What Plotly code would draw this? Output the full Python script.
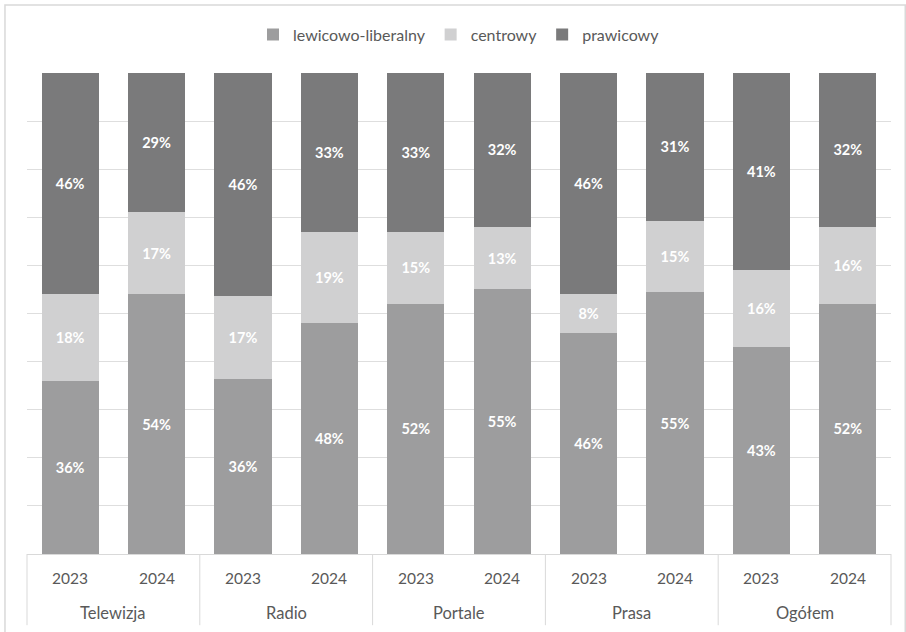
import plotly.graph_objects as go

# Share of coverage by political leaning, per medium and year
categories = ["Telewizja", "Radio", "Portale", "Prasa", "Ogółem"]
years = ["2023", "2024"]

media = [c for c in categories for _ in years]
year_labels = years * len(categories)

lewicowo_liberalny = [36, 54, 36, 48, 52, 55, 46, 55, 43, 52]
centrowy = [18, 17, 17, 19, 15, 13, 8, 15, 16, 16]
prawicowy = [46, 29, 46, 33, 33, 32, 46, 31, 41, 32]

series = [
    ("lewicowo-liberalny", lewicowo_liberalny, "#9d9d9e"),
    ("centrowy", centrowy, "#d0d0d1"),
    ("prawicowy", prawicowy, "#7a7a7b"),
]

FONT = "Lato, 'Open Sans', sans-serif"
TXT = "#595959"
LINE = "#d9d9d9"

fig = go.Figure()
for name, vals, color in series:
    fig.add_trace(go.Bar(
        name=name,
        x=[media, year_labels],
        y=vals,
        marker=dict(color=color, line=dict(width=0)),
        text=[f"{v}%" for v in vals],
        textposition="inside",
        insidetextanchor="middle",
        textangle=0,
        textfont=dict(family=FONT, size=14.5, color="white", weight="bold"),
        hoverinfo="skip",
    ))

# Two-level category labels under the plot, with group dividers
n = len(media)
annotations = []
for i, y in enumerate(year_labels):
    annotations.append(dict(
        x=(i + 0.5) / n, y=-0.05, xref="paper", yref="paper",
        text=y, showarrow=False, xanchor="center", yanchor="middle",
        font=dict(family=FONT, size=15.5, color=TXT)))
ng = len(categories)
for j, c in enumerate(categories):
    annotations.append(dict(
        x=(j + 0.5) / ng, y=-0.123, xref="paper", yref="paper",
        text=c, showarrow=False, xanchor="center", yanchor="middle",
        font=dict(family=FONT, size=16.5, color=TXT)))

shapes = [
    dict(type="rect", xref="paper", yref="paper",
         x0=-0.0255, x1=1.0165, y0=-0.2, y1=1.1414,
         line=dict(color=LINE, width=1.5), layer="below"),
]
for j in range(ng + 1):
    shapes.append(dict(type="line", xref="paper", yref="paper",
                       x0=j / ng, x1=j / ng, y0=0, y1=-0.148,
                       line=dict(color=LINE, width=1)))

fig.update_layout(
    barmode="stack",
    barnorm="percent",
    bargap=0.34,
    width=906,
    height=632,
    margin=dict(l=27, r=15, t=73, b=78, autoexpand=False),
    paper_bgcolor="white",
    plot_bgcolor="white",
    font=dict(family=FONT, size=15, color=TXT),
    legend=dict(
        orientation="h",
        x=0.5, xanchor="center",
        y=1.08, yanchor="middle",
        font=dict(family=FONT, size=16, color=TXT),
        itemwidth=30,
        traceorder="normal",
    ),
    xaxis=dict(
        type="multicategory",
        showline=True,
        linecolor=LINE,
        linewidth=1,
        showticklabels=False,
        showdividers=False,
        showgrid=False,
        zeroline=False,
    ),
    yaxis=dict(
        range=[0, 100],
        dtick=10,
        showticklabels=False,
        showgrid=True,
        gridcolor="#dedede",
        gridwidth=1,
        zeroline=False,
        fixedrange=True,
    ),
    annotations=annotations,
    shapes=shapes,
)

fig.write_html("out.html")
